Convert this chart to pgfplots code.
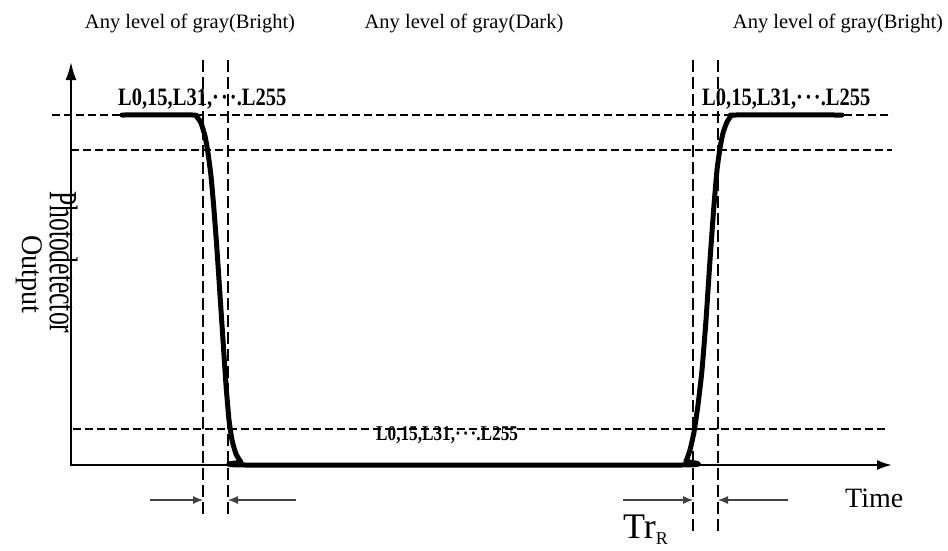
\documentclass[border=0pt]{standalone}
\usepackage{pgfplots}
\pgfplotsset{compat=1.18}
\usepackage{fontspec}
\setmainfont{Liberation Serif}
\usetikzlibrary{arrows.meta}
\newcommand{\dts}{·\kern2.5pt·\kern2.5pt·}
\begin{document}
\begin{tikzpicture}
\begin{axis}[
  at={(0,0)}, anchor=south west,
  width=948pt, height=550pt, scale only axis,
  xmin=0, xmax=948, ymin=0, ymax=550, y dir=reverse,
  hide axis, clip=false,
]
% dashed reference lines
\addplot[black, line width=1.6pt, dash pattern=on 8pt off 4pt] coordinates {(52,115) (892,115)};
\addplot[black, line width=1.6pt, dash pattern=on 8pt off 4pt] coordinates {(71,150) (892,150)};
\addplot[black, line width=1.6pt, dash pattern=on 8pt off 4pt] coordinates {(73,429) (888,429)};
\addplot[black, line width=1.6pt, dash pattern=on 12pt off 5pt] coordinates {(203,60) (203,518)};
\addplot[black, line width=1.6pt, dash pattern=on 12pt off 5pt] coordinates {(228,60) (228,518)};
\addplot[black, line width=1.6pt, dash pattern=on 12pt off 5pt] coordinates {(693,60) (693,535)};
\addplot[black, line width=1.6pt, dash pattern=on 12pt off 5pt] coordinates {(718,60) (718,535)};
% axes
\draw[black, line width=2pt, -{Latex[length=18pt,width=11pt]}] (axis cs:71,465) -- (axis cs:71,62);
\draw[black, line width=2pt, -{Latex[length=15pt,width=10pt]}] (axis cs:70,465) -- (axis cs:892,465);
% response curve
\addplot[black, line width=5pt, line join=round, line cap=round, smooth, tension=0.3] coordinates {
(122,115) (193,115) (197,117) (201,123) (205,136) (208,153) (211,176) (214,210) (217,250)
(220,295) (223,340) (226,385) (229,420) (232,440) (236,454) (241,462) (246,465) (681,465)
(686,461) (690,450) (694,432) (698,405) (702,370) (706,320) (710,260) (714,205) (717,170)
(720,148) (723,133) (727,122) (731,116) (735,115) (842,115)};
% timing arrows
\draw[black!75, line width=1.2pt, -{Latex[length=10pt,width=8pt]}] (axis cs:150,500) -- (axis cs:203,500);
\draw[black!75, line width=1.2pt, -{Latex[length=10pt,width=8pt]}] (axis cs:296,500) -- (axis cs:228,500);
\draw[black!75, line width=1.2pt, -{Latex[length=10pt,width=8pt]}] (axis cs:623,500) -- (axis cs:693,500);
\draw[black!75, line width=1.2pt, -{Latex[length=10pt,width=8pt]}] (axis cs:788,500) -- (axis cs:718,500);
% titles
\node[anchor=base, inner sep=0] at (axis cs:190,28) {\fontsize{20.5}{22}\selectfont Any level of gray(Bright)};
\node[anchor=base, inner sep=0] at (axis cs:464,28) {\fontsize{20.5}{22}\selectfont Any level of gray(Dark)};
\node[anchor=base, inner sep=0] at (axis cs:838,28) {\fontsize{20.5}{22}\selectfont Any level of gray(Bright)};
% level labels
\node[anchor=base west, inner sep=0] at (axis cs:118,105) {\fontsize{25}{26}\selectfont\bfseries\scalebox{0.82}[1]{L0,15,L31,\dts.L255}};
\node[anchor=base west, inner sep=0] at (axis cs:702,105) {\fontsize{25}{26}\selectfont\bfseries\scalebox{0.82}[1]{L0,15,L31,\dts.L255}};
\node[anchor=base west, inner sep=0] at (axis cs:376,440) {\fontsize{21}{22}\selectfont\bfseries\scalebox{0.82}[1]{L0,15,L31,\dts.L255}};
% y label
\node[anchor=base west, rotate=-90, inner sep=0] at (axis cs:50,191) {\fontsize{40}{40}\selectfont\scalebox{0.64}[1]{Photodetector}};
\node[anchor=base west, rotate=-90, inner sep=0] at (axis cs:22,235) {\fontsize{30}{30}\selectfont\scalebox{0.94}[1]{Output}};
% x label
\node[anchor=base west, inner sep=0] at (axis cs:845,507) {\fontsize{28}{28}\selectfont Time};
\node[anchor=base west, inner sep=0] at (axis cs:623,538) {\fontsize{36}{36}\selectfont Tr\raisebox{-6pt}{\fontsize{18}{18}\selectfont R}};
\end{axis}
\pgfresetboundingbox
\useasboundingbox (0,0) rectangle (948pt,550pt);
\end{tikzpicture}
\end{document}
